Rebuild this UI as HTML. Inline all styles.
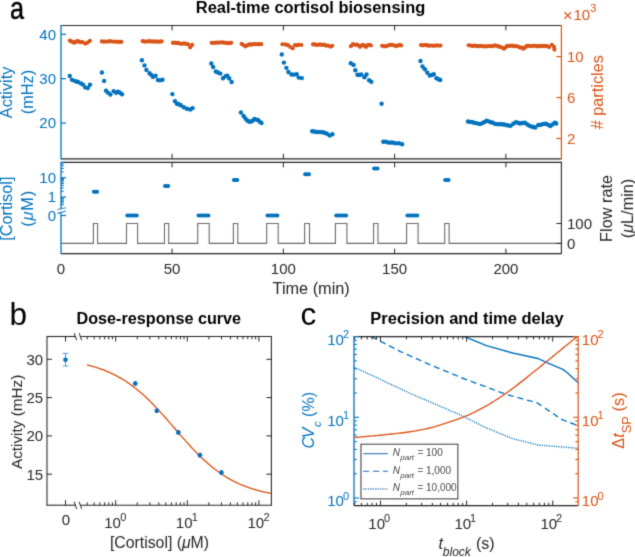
<!DOCTYPE html>
<html><head><meta charset="utf-8"><style>
html,body{margin:0;padding:0;background:#fff;}
svg{display:block;font-family:"Liberation Sans", sans-serif;}
</style></head><body>
<svg width="635" height="557" viewBox="0 0 635 557">
<defs><filter id="soft" x="0" y="0" width="100%" height="100%" filterUnits="userSpaceOnUse"><feConvolveMatrix order="3" kernelMatrix="0.0192 0.1001 0.0192 0.1001 0.5228 0.1001 0.0192 0.1001 0.0192" edgeMode="duplicate"/></filter></defs>
<rect width="635" height="557" fill="#fff"/>
<g filter="url(#soft)">
<text transform="translate(10,19) scale(0.8,1)" x="0" y="0" font-size="31.5" fill="#000" stroke="#000" stroke-width="0.5" text-anchor="start">a</text>
<text x="310.5" y="12.8" font-size="16" fill="#000" text-anchor="middle" font-weight="bold" textLength="229.5" lengthAdjust="spacingAndGlyphs">Real-time cortisol biosensing</text>
<circle cx="69.9" cy="40.62" r="2.1" fill="#D95319"/>
<circle cx="71" cy="41.23" r="2.1" fill="#D95319"/>
<circle cx="72.45" cy="41.81" r="2.1" fill="#D95319"/>
<circle cx="73.9" cy="42.67" r="2.1" fill="#D95319"/>
<circle cx="75.45" cy="42.14" r="2.1" fill="#D95319"/>
<circle cx="77" cy="41.2" r="2.1" fill="#D95319"/>
<circle cx="78.5" cy="41.31" r="2.1" fill="#D95319"/>
<circle cx="80" cy="42.04" r="2.1" fill="#D95319"/>
<circle cx="82.5" cy="42.13" r="2.1" fill="#D95319"/>
<circle cx="85.3" cy="43.61" r="2.1" fill="#D95319"/>
<circle cx="87.5" cy="42.65" r="2.1" fill="#D95319"/>
<circle cx="89.9" cy="40.8" r="2.1" fill="#D95319"/>
<circle cx="101.9" cy="41.38" r="2.1" fill="#D95319"/>
<circle cx="103.95" cy="41.69" r="2.1" fill="#D95319"/>
<circle cx="106" cy="41.48" r="2.1" fill="#D95319"/>
<circle cx="108" cy="41.56" r="2.1" fill="#D95319"/>
<circle cx="110" cy="41.19" r="2.1" fill="#D95319"/>
<circle cx="112" cy="41.49" r="2.1" fill="#D95319"/>
<circle cx="114" cy="41.76" r="2.1" fill="#D95319"/>
<circle cx="116" cy="41.62" r="2.1" fill="#D95319"/>
<circle cx="118" cy="41.87" r="2.1" fill="#D95319"/>
<circle cx="119.7" cy="41.87" r="2.1" fill="#D95319"/>
<circle cx="121.4" cy="41.8" r="2.1" fill="#D95319"/>
<circle cx="142.6" cy="41.09" r="2.1" fill="#D95319"/>
<circle cx="144.45" cy="41.61" r="2.1" fill="#D95319"/>
<circle cx="146.3" cy="41.51" r="2.1" fill="#D95319"/>
<circle cx="148.15" cy="41.34" r="2.1" fill="#D95319"/>
<circle cx="150" cy="41.17" r="2.1" fill="#D95319"/>
<circle cx="152" cy="41.72" r="2.1" fill="#D95319"/>
<circle cx="154" cy="41.41" r="2.1" fill="#D95319"/>
<circle cx="156" cy="41.55" r="2.1" fill="#D95319"/>
<circle cx="157.87" cy="41.67" r="2.1" fill="#D95319"/>
<circle cx="159.73" cy="41.55" r="2.1" fill="#D95319"/>
<circle cx="161.6" cy="41.4" r="2.1" fill="#D95319"/>
<circle cx="172.9" cy="42.79" r="2.1" fill="#D95319"/>
<circle cx="174.6" cy="42.59" r="2.1" fill="#D95319"/>
<circle cx="176.3" cy="43.04" r="2.1" fill="#D95319"/>
<circle cx="178" cy="42.96" r="2.1" fill="#D95319"/>
<circle cx="180" cy="43.54" r="2.1" fill="#D95319"/>
<circle cx="182" cy="43.73" r="2.1" fill="#D95319"/>
<circle cx="184" cy="43.42" r="2.1" fill="#D95319"/>
<circle cx="186" cy="43.85" r="2.1" fill="#D95319"/>
<circle cx="188" cy="44.3" r="2.1" fill="#D95319"/>
<circle cx="190.2" cy="47.33" r="2.1" fill="#D95319"/>
<circle cx="192.1" cy="44.9" r="2.1" fill="#D95319"/>
<circle cx="211.7" cy="42.86" r="2.1" fill="#D95319"/>
<circle cx="213.85" cy="42.89" r="2.1" fill="#D95319"/>
<circle cx="216" cy="42.56" r="2.1" fill="#D95319"/>
<circle cx="218" cy="42.64" r="2.1" fill="#D95319"/>
<circle cx="220" cy="42.49" r="2.1" fill="#D95319"/>
<circle cx="222" cy="42.4" r="2.1" fill="#D95319"/>
<circle cx="224" cy="42.69" r="2.1" fill="#D95319"/>
<circle cx="226" cy="42.83" r="2.1" fill="#D95319"/>
<circle cx="228" cy="43.18" r="2.1" fill="#D95319"/>
<circle cx="229.6" cy="42.98" r="2.1" fill="#D95319"/>
<circle cx="231.2" cy="42.8" r="2.1" fill="#D95319"/>
<circle cx="241.7" cy="43.9" r="2.1" fill="#D95319"/>
<circle cx="243.55" cy="45.05" r="2.1" fill="#D95319"/>
<circle cx="245.4" cy="46.34" r="2.1" fill="#D95319"/>
<circle cx="247.2" cy="45.42" r="2.1" fill="#D95319"/>
<circle cx="249" cy="44.36" r="2.1" fill="#D95319"/>
<circle cx="250.67" cy="44.59" r="2.1" fill="#D95319"/>
<circle cx="252.33" cy="44.39" r="2.1" fill="#D95319"/>
<circle cx="254" cy="44.08" r="2.1" fill="#D95319"/>
<circle cx="256" cy="44.05" r="2.1" fill="#D95319"/>
<circle cx="258" cy="44.35" r="2.1" fill="#D95319"/>
<circle cx="259.6" cy="44" r="2.1" fill="#D95319"/>
<circle cx="261.2" cy="44.2" r="2.1" fill="#D95319"/>
<circle cx="282.4" cy="44.23" r="2.1" fill="#D95319"/>
<circle cx="285" cy="44.35" r="2.1" fill="#D95319"/>
<circle cx="286.5" cy="44.75" r="2.1" fill="#D95319"/>
<circle cx="288" cy="45.19" r="2.1" fill="#D95319"/>
<circle cx="290.3" cy="47" r="2.1" fill="#D95319"/>
<circle cx="292.6" cy="48.34" r="2.1" fill="#D95319"/>
<circle cx="295" cy="45.21" r="2.1" fill="#D95319"/>
<circle cx="297" cy="45.36" r="2.1" fill="#D95319"/>
<circle cx="299" cy="44.74" r="2.1" fill="#D95319"/>
<circle cx="301.4" cy="45" r="2.1" fill="#D95319"/>
<circle cx="313" cy="44.36" r="2.1" fill="#D95319"/>
<circle cx="314.67" cy="44.46" r="2.1" fill="#D95319"/>
<circle cx="316.33" cy="44.79" r="2.1" fill="#D95319"/>
<circle cx="318" cy="44.86" r="2.1" fill="#D95319"/>
<circle cx="320" cy="44.41" r="2.1" fill="#D95319"/>
<circle cx="322" cy="44.95" r="2.1" fill="#D95319"/>
<circle cx="324" cy="44.68" r="2.1" fill="#D95319"/>
<circle cx="326" cy="45.55" r="2.1" fill="#D95319"/>
<circle cx="328" cy="45.68" r="2.1" fill="#D95319"/>
<circle cx="330.5" cy="46.57" r="2.1" fill="#D95319"/>
<circle cx="332.2" cy="45.8" r="2.1" fill="#D95319"/>
<circle cx="350.9" cy="46.14" r="2.1" fill="#D95319"/>
<circle cx="353" cy="44.2" r="2.1" fill="#D95319"/>
<circle cx="355" cy="44.85" r="2.1" fill="#D95319"/>
<circle cx="357" cy="44.67" r="2.1" fill="#D95319"/>
<circle cx="358.5" cy="45.5" r="2.1" fill="#D95319"/>
<circle cx="360" cy="46.87" r="2.1" fill="#D95319"/>
<circle cx="361.5" cy="45.57" r="2.1" fill="#D95319"/>
<circle cx="363" cy="44.79" r="2.1" fill="#D95319"/>
<circle cx="364.5" cy="45.84" r="2.1" fill="#D95319"/>
<circle cx="366" cy="46.88" r="2.1" fill="#D95319"/>
<circle cx="368" cy="44.76" r="2.1" fill="#D95319"/>
<circle cx="369.45" cy="44.93" r="2.1" fill="#D95319"/>
<circle cx="370.9" cy="45.5" r="2.1" fill="#D95319"/>
<circle cx="382.1" cy="45.76" r="2.1" fill="#D95319"/>
<circle cx="384" cy="46.37" r="2.1" fill="#D95319"/>
<circle cx="386" cy="46.17" r="2.1" fill="#D95319"/>
<circle cx="388" cy="45.48" r="2.1" fill="#D95319"/>
<circle cx="390" cy="44.91" r="2.1" fill="#D95319"/>
<circle cx="392" cy="44.77" r="2.1" fill="#D95319"/>
<circle cx="394" cy="45.41" r="2.1" fill="#D95319"/>
<circle cx="396" cy="46.1" r="2.1" fill="#D95319"/>
<circle cx="397.5" cy="45.57" r="2.1" fill="#D95319"/>
<circle cx="399" cy="45.04" r="2.1" fill="#D95319"/>
<circle cx="401.1" cy="45.4" r="2.1" fill="#D95319"/>
<circle cx="421" cy="45.08" r="2.1" fill="#D95319"/>
<circle cx="423" cy="45.31" r="2.1" fill="#D95319"/>
<circle cx="425" cy="45" r="2.1" fill="#D95319"/>
<circle cx="426.67" cy="45.22" r="2.1" fill="#D95319"/>
<circle cx="428.33" cy="45.69" r="2.1" fill="#D95319"/>
<circle cx="430" cy="45.62" r="2.1" fill="#D95319"/>
<circle cx="432" cy="45.53" r="2.1" fill="#D95319"/>
<circle cx="434" cy="45.87" r="2.1" fill="#D95319"/>
<circle cx="436" cy="45.41" r="2.1" fill="#D95319"/>
<circle cx="438.25" cy="45.53" r="2.1" fill="#D95319"/>
<circle cx="440.5" cy="45.6" r="2.1" fill="#D95319"/>
<circle cx="468.7" cy="45.26" r="2.1" fill="#D95319"/>
<circle cx="470.8" cy="45.67" r="2.1" fill="#D95319"/>
<circle cx="472.9" cy="45.92" r="2.1" fill="#D95319"/>
<circle cx="475" cy="45.66" r="2.1" fill="#D95319"/>
<circle cx="477" cy="46.14" r="2.1" fill="#D95319"/>
<circle cx="479" cy="46.21" r="2.1" fill="#D95319"/>
<circle cx="481" cy="45.87" r="2.1" fill="#D95319"/>
<circle cx="483" cy="46.33" r="2.1" fill="#D95319"/>
<circle cx="485" cy="46.28" r="2.1" fill="#D95319"/>
<circle cx="487" cy="46.33" r="2.1" fill="#D95319"/>
<circle cx="489" cy="46" r="2.1" fill="#D95319"/>
<circle cx="491" cy="46.14" r="2.1" fill="#D95319"/>
<circle cx="493" cy="46.07" r="2.1" fill="#D95319"/>
<circle cx="495" cy="45.47" r="2.1" fill="#D95319"/>
<circle cx="496.67" cy="45.73" r="2.1" fill="#D95319"/>
<circle cx="498.33" cy="46.39" r="2.1" fill="#D95319"/>
<circle cx="500" cy="46.82" r="2.1" fill="#D95319"/>
<circle cx="501.95" cy="47.48" r="2.1" fill="#D95319"/>
<circle cx="503.9" cy="48.77" r="2.1" fill="#D95319"/>
<circle cx="505.45" cy="47.56" r="2.1" fill="#D95319"/>
<circle cx="507" cy="46.07" r="2.1" fill="#D95319"/>
<circle cx="508.67" cy="45.97" r="2.1" fill="#D95319"/>
<circle cx="510.33" cy="45.8" r="2.1" fill="#D95319"/>
<circle cx="512" cy="45.71" r="2.1" fill="#D95319"/>
<circle cx="514" cy="46.13" r="2.1" fill="#D95319"/>
<circle cx="516" cy="46.19" r="2.1" fill="#D95319"/>
<circle cx="518" cy="46.51" r="2.1" fill="#D95319"/>
<circle cx="519.77" cy="47.46" r="2.1" fill="#D95319"/>
<circle cx="521.53" cy="47.6" r="2.1" fill="#D95319"/>
<circle cx="523.3" cy="48.65" r="2.1" fill="#D95319"/>
<circle cx="525.15" cy="47.46" r="2.1" fill="#D95319"/>
<circle cx="527" cy="45.87" r="2.1" fill="#D95319"/>
<circle cx="529" cy="45.81" r="2.1" fill="#D95319"/>
<circle cx="531" cy="46.21" r="2.1" fill="#D95319"/>
<circle cx="533" cy="45.82" r="2.1" fill="#D95319"/>
<circle cx="535" cy="45.78" r="2.1" fill="#D95319"/>
<circle cx="536.75" cy="46.03" r="2.1" fill="#D95319"/>
<circle cx="538.5" cy="46.29" r="2.1" fill="#D95319"/>
<circle cx="540.25" cy="45.95" r="2.1" fill="#D95319"/>
<circle cx="542" cy="46.18" r="2.1" fill="#D95319"/>
<circle cx="544" cy="45.93" r="2.1" fill="#D95319"/>
<circle cx="546" cy="46.03" r="2.1" fill="#D95319"/>
<circle cx="547.5" cy="46.26" r="2.1" fill="#D95319"/>
<circle cx="549" cy="47.05" r="2.1" fill="#D95319"/>
<circle cx="551.8" cy="44.77" r="2.1" fill="#D95319"/>
<circle cx="554" cy="46.89" r="2.1" fill="#D95319"/>
<circle cx="554.4" cy="49.6" r="2.1" fill="#D95319"/>
<circle cx="69.8" cy="75.99" r="2.2" fill="#0072BD"/>
<circle cx="72" cy="79.83" r="2.2" fill="#0072BD"/>
<circle cx="74.6" cy="80.87" r="2.2" fill="#0072BD"/>
<circle cx="76.3" cy="81.44" r="2.2" fill="#0072BD"/>
<circle cx="78" cy="82.07" r="2.2" fill="#0072BD"/>
<circle cx="80.9" cy="83.42" r="2.2" fill="#0072BD"/>
<circle cx="83" cy="84.61" r="2.2" fill="#0072BD"/>
<circle cx="85.3" cy="87.38" r="2.2" fill="#0072BD"/>
<circle cx="87.8" cy="88" r="2.2" fill="#0072BD"/>
<circle cx="90" cy="84.7" r="2.2" fill="#0072BD"/>
<circle cx="101.9" cy="72.5" r="2.2" fill="#0072BD"/>
<circle cx="104.1" cy="80.9" r="2.2" fill="#0072BD"/>
<circle cx="106" cy="90.81" r="2.2" fill="#0072BD"/>
<circle cx="108" cy="92.67" r="2.2" fill="#0072BD"/>
<circle cx="110.4" cy="94.48" r="2.2" fill="#0072BD"/>
<circle cx="113.5" cy="91.09" r="2.2" fill="#0072BD"/>
<circle cx="116" cy="92.68" r="2.2" fill="#0072BD"/>
<circle cx="118" cy="91.71" r="2.2" fill="#0072BD"/>
<circle cx="120" cy="92.78" r="2.2" fill="#0072BD"/>
<circle cx="122" cy="94.2" r="2.2" fill="#0072BD"/>
<circle cx="141.9" cy="60.2" r="2.2" fill="#0072BD"/>
<circle cx="144.5" cy="65.4" r="2.2" fill="#0072BD"/>
<circle cx="146.4" cy="69.88" r="2.2" fill="#0072BD"/>
<circle cx="149.5" cy="73.18" r="2.2" fill="#0072BD"/>
<circle cx="151.25" cy="74.86" r="2.2" fill="#0072BD"/>
<circle cx="153" cy="76.91" r="2.2" fill="#0072BD"/>
<circle cx="155.6" cy="75.75" r="2.2" fill="#0072BD"/>
<circle cx="157.9" cy="79.95" r="2.2" fill="#0072BD"/>
<circle cx="160" cy="80.35" r="2.2" fill="#0072BD"/>
<circle cx="162.5" cy="79.7" r="2.2" fill="#0072BD"/>
<circle cx="172.4" cy="94.1" r="2.2" fill="#0072BD"/>
<circle cx="175" cy="101.15" r="2.2" fill="#0072BD"/>
<circle cx="176.9" cy="103.79" r="2.2" fill="#0072BD"/>
<circle cx="178.85" cy="104.2" r="2.2" fill="#0072BD"/>
<circle cx="180.8" cy="105.27" r="2.2" fill="#0072BD"/>
<circle cx="183.8" cy="107.23" r="2.2" fill="#0072BD"/>
<circle cx="186.9" cy="108.79" r="2.2" fill="#0072BD"/>
<circle cx="190.2" cy="109.56" r="2.2" fill="#0072BD"/>
<circle cx="192.6" cy="108.1" r="2.2" fill="#0072BD"/>
<circle cx="211.3" cy="63.47" r="2.2" fill="#0072BD"/>
<circle cx="213.1" cy="67.06" r="2.2" fill="#0072BD"/>
<circle cx="215.8" cy="71.43" r="2.2" fill="#0072BD"/>
<circle cx="218" cy="72.55" r="2.2" fill="#0072BD"/>
<circle cx="220.3" cy="73.6" r="2.2" fill="#0072BD"/>
<circle cx="223" cy="78.2" r="2.2" fill="#0072BD"/>
<circle cx="225.5" cy="76.21" r="2.2" fill="#0072BD"/>
<circle cx="227.4" cy="75.67" r="2.2" fill="#0072BD"/>
<circle cx="229.2" cy="78.4" r="2.2" fill="#0072BD"/>
<circle cx="231.6" cy="82" r="2.2" fill="#0072BD"/>
<circle cx="240.9" cy="112.44" r="2.2" fill="#0072BD"/>
<circle cx="243.6" cy="115.94" r="2.2" fill="#0072BD"/>
<circle cx="245.4" cy="118.45" r="2.2" fill="#0072BD"/>
<circle cx="247.2" cy="120.47" r="2.2" fill="#0072BD"/>
<circle cx="249" cy="121.44" r="2.2" fill="#0072BD"/>
<circle cx="250.8" cy="121.63" r="2.2" fill="#0072BD"/>
<circle cx="252.6" cy="120.64" r="2.2" fill="#0072BD"/>
<circle cx="254.4" cy="119.02" r="2.2" fill="#0072BD"/>
<circle cx="256.2" cy="119.6" r="2.2" fill="#0072BD"/>
<circle cx="258" cy="120.04" r="2.2" fill="#0072BD"/>
<circle cx="259.75" cy="121.64" r="2.2" fill="#0072BD"/>
<circle cx="261.5" cy="123" r="2.2" fill="#0072BD"/>
<circle cx="281.8" cy="54.4" r="2.2" fill="#0072BD"/>
<circle cx="283.9" cy="62.6" r="2.2" fill="#0072BD"/>
<circle cx="286.4" cy="67.85" r="2.2" fill="#0072BD"/>
<circle cx="288.4" cy="72.01" r="2.2" fill="#0072BD"/>
<circle cx="291.5" cy="74.55" r="2.2" fill="#0072BD"/>
<circle cx="294" cy="74.6" r="2.2" fill="#0072BD"/>
<circle cx="296.7" cy="74.28" r="2.2" fill="#0072BD"/>
<circle cx="298.7" cy="77.6" r="2.2" fill="#0072BD"/>
<circle cx="301.8" cy="78.1" r="2.2" fill="#0072BD"/>
<circle cx="312.2" cy="131.21" r="2.2" fill="#0072BD"/>
<circle cx="314.13" cy="131.41" r="2.2" fill="#0072BD"/>
<circle cx="316.07" cy="132" r="2.2" fill="#0072BD"/>
<circle cx="318" cy="132.07" r="2.2" fill="#0072BD"/>
<circle cx="320.2" cy="132.1" r="2.2" fill="#0072BD"/>
<circle cx="322.4" cy="132.25" r="2.2" fill="#0072BD"/>
<circle cx="324.6" cy="132.82" r="2.2" fill="#0072BD"/>
<circle cx="327" cy="133.79" r="2.2" fill="#0072BD"/>
<circle cx="329.7" cy="135.47" r="2.2" fill="#0072BD"/>
<circle cx="332.4" cy="134.3" r="2.2" fill="#0072BD"/>
<circle cx="350.8" cy="63.31" r="2.2" fill="#0072BD"/>
<circle cx="353.6" cy="64.9" r="2.2" fill="#0072BD"/>
<circle cx="355.3" cy="70.32" r="2.2" fill="#0072BD"/>
<circle cx="357.5" cy="74.82" r="2.2" fill="#0072BD"/>
<circle cx="359.35" cy="74.89" r="2.2" fill="#0072BD"/>
<circle cx="361.2" cy="74.4" r="2.2" fill="#0072BD"/>
<circle cx="364.4" cy="77.18" r="2.2" fill="#0072BD"/>
<circle cx="366.5" cy="74.45" r="2.2" fill="#0072BD"/>
<circle cx="369.1" cy="80.18" r="2.2" fill="#0072BD"/>
<circle cx="371.3" cy="81.7" r="2.2" fill="#0072BD"/>
<circle cx="381.6" cy="103.7" r="2.2" fill="#0072BD"/>
<circle cx="383.3" cy="141.79" r="2.2" fill="#0072BD"/>
<circle cx="385.65" cy="141.65" r="2.2" fill="#0072BD"/>
<circle cx="388" cy="142.38" r="2.2" fill="#0072BD"/>
<circle cx="390" cy="142.67" r="2.2" fill="#0072BD"/>
<circle cx="392" cy="142.33" r="2.2" fill="#0072BD"/>
<circle cx="394" cy="142.91" r="2.2" fill="#0072BD"/>
<circle cx="396" cy="143.36" r="2.2" fill="#0072BD"/>
<circle cx="399" cy="143.22" r="2.2" fill="#0072BD"/>
<circle cx="402.1" cy="144.2" r="2.2" fill="#0072BD"/>
<circle cx="420.5" cy="61" r="2.2" fill="#0072BD"/>
<circle cx="422.5" cy="66.55" r="2.2" fill="#0072BD"/>
<circle cx="424.9" cy="69.18" r="2.2" fill="#0072BD"/>
<circle cx="427.3" cy="72.67" r="2.2" fill="#0072BD"/>
<circle cx="429.8" cy="75.6" r="2.2" fill="#0072BD"/>
<circle cx="431.8" cy="74.93" r="2.2" fill="#0072BD"/>
<circle cx="433.8" cy="74.28" r="2.2" fill="#0072BD"/>
<circle cx="436.4" cy="78.17" r="2.2" fill="#0072BD"/>
<circle cx="438.5" cy="79.24" r="2.2" fill="#0072BD"/>
<circle cx="440.3" cy="80" r="2.2" fill="#0072BD"/>
<circle cx="468" cy="121.48" r="2.2" fill="#0072BD"/>
<circle cx="470" cy="121.91" r="2.2" fill="#0072BD"/>
<circle cx="472" cy="121.95" r="2.2" fill="#0072BD"/>
<circle cx="474" cy="122.7" r="2.2" fill="#0072BD"/>
<circle cx="476" cy="123.09" r="2.2" fill="#0072BD"/>
<circle cx="478" cy="123.59" r="2.2" fill="#0072BD"/>
<circle cx="480" cy="124.11" r="2.2" fill="#0072BD"/>
<circle cx="482.23" cy="123.15" r="2.2" fill="#0072BD"/>
<circle cx="484.47" cy="121.99" r="2.2" fill="#0072BD"/>
<circle cx="486.7" cy="120.72" r="2.2" fill="#0072BD"/>
<circle cx="488.75" cy="121.36" r="2.2" fill="#0072BD"/>
<circle cx="490.8" cy="122.2" r="2.2" fill="#0072BD"/>
<circle cx="492.85" cy="122.82" r="2.2" fill="#0072BD"/>
<circle cx="494.9" cy="123.83" r="2.2" fill="#0072BD"/>
<circle cx="497.15" cy="124.15" r="2.2" fill="#0072BD"/>
<circle cx="499.4" cy="124.18" r="2.2" fill="#0072BD"/>
<circle cx="501.65" cy="124.22" r="2.2" fill="#0072BD"/>
<circle cx="503.9" cy="124.51" r="2.2" fill="#0072BD"/>
<circle cx="506.13" cy="124.96" r="2.2" fill="#0072BD"/>
<circle cx="508.37" cy="125.43" r="2.2" fill="#0072BD"/>
<circle cx="510.6" cy="125.87" r="2.2" fill="#0072BD"/>
<circle cx="513.25" cy="123.78" r="2.2" fill="#0072BD"/>
<circle cx="515.9" cy="122.18" r="2.2" fill="#0072BD"/>
<circle cx="517.95" cy="122.82" r="2.2" fill="#0072BD"/>
<circle cx="520" cy="123.46" r="2.2" fill="#0072BD"/>
<circle cx="522.4" cy="123.02" r="2.2" fill="#0072BD"/>
<circle cx="524.8" cy="122.7" r="2.2" fill="#0072BD"/>
<circle cx="527.05" cy="124.32" r="2.2" fill="#0072BD"/>
<circle cx="529.3" cy="125.65" r="2.2" fill="#0072BD"/>
<circle cx="531.3" cy="126.48" r="2.2" fill="#0072BD"/>
<circle cx="533.3" cy="127.01" r="2.2" fill="#0072BD"/>
<circle cx="535.3" cy="127.55" r="2.2" fill="#0072BD"/>
<circle cx="538.3" cy="125.02" r="2.2" fill="#0072BD"/>
<circle cx="540.8" cy="124.72" r="2.2" fill="#0072BD"/>
<circle cx="543.3" cy="123.94" r="2.2" fill="#0072BD"/>
<circle cx="545.8" cy="123.75" r="2.2" fill="#0072BD"/>
<circle cx="548.05" cy="124.71" r="2.2" fill="#0072BD"/>
<circle cx="550.3" cy="125.93" r="2.2" fill="#0072BD"/>
<circle cx="552.55" cy="124.46" r="2.2" fill="#0072BD"/>
<circle cx="554.8" cy="122.62" r="2.2" fill="#0072BD"/>
<circle cx="556.3" cy="123.5" r="2.2" fill="#0072BD"/>
<line x1="61" y1="25.45" x2="561.4" y2="25.45" stroke="#262626" stroke-width="1.1" />
<line x1="61" y1="158.9" x2="561.4" y2="158.9" stroke="#262626" stroke-width="1.1" />
<line x1="61" y1="24.95" x2="61" y2="159.4" stroke="#0072BD" stroke-width="1.3" />
<line x1="561.4" y1="24.95" x2="561.4" y2="159.4" stroke="#D95319" stroke-width="1.2" />
<line x1="172.07" y1="25.45" x2="172.07" y2="30.45" stroke="#262626" stroke-width="1" />
<line x1="172.07" y1="153.9" x2="172.07" y2="158.9" stroke="#262626" stroke-width="1" />
<line x1="283.35" y1="25.45" x2="283.35" y2="30.45" stroke="#262626" stroke-width="1" />
<line x1="283.35" y1="153.9" x2="283.35" y2="158.9" stroke="#262626" stroke-width="1" />
<line x1="394.62" y1="25.45" x2="394.62" y2="30.45" stroke="#262626" stroke-width="1" />
<line x1="394.62" y1="153.9" x2="394.62" y2="158.9" stroke="#262626" stroke-width="1" />
<line x1="505.9" y1="25.45" x2="505.9" y2="30.45" stroke="#262626" stroke-width="1" />
<line x1="505.9" y1="153.9" x2="505.9" y2="158.9" stroke="#262626" stroke-width="1" />
<line x1="61" y1="123.1" x2="66" y2="123.1" stroke="#0072BD" stroke-width="1.2" />
<text x="56" y="128.4" font-size="15" fill="#0072BD" text-anchor="end">20</text>
<line x1="61" y1="78.7" x2="66" y2="78.7" stroke="#0072BD" stroke-width="1.2" />
<text x="56" y="84" font-size="15" fill="#0072BD" text-anchor="end">30</text>
<line x1="61" y1="34.3" x2="66" y2="34.3" stroke="#0072BD" stroke-width="1.2" />
<text x="56" y="39.6" font-size="15" fill="#0072BD" text-anchor="end">40</text>
<line x1="556.4" y1="138.5" x2="561.4" y2="138.5" stroke="#D95319" stroke-width="1.2" />
<text x="567" y="143.8" font-size="15" fill="#D95319" text-anchor="start">2</text>
<line x1="556.4" y1="97.54" x2="561.4" y2="97.54" stroke="#D95319" stroke-width="1.2" />
<text x="567" y="102.84" font-size="15" fill="#D95319" text-anchor="start">6</text>
<line x1="556.4" y1="56.58" x2="561.4" y2="56.58" stroke="#D95319" stroke-width="1.2" />
<text x="567" y="61.88" font-size="15" fill="#D95319" text-anchor="start">10</text>
<text x="562.8" y="21.2" font-size="17" fill="#D95319" text-anchor="start">&#215;</text>
<text x="573.5" y="19.8" font-size="15" fill="#D95319" text-anchor="start">10</text>
<text x="590.3" y="12.3" font-size="11" fill="#D95319" text-anchor="start">3</text>
<text transform="translate(11.9,92.4) rotate(-90)" x="0" y="0" font-size="16.3" fill="#0072BD" text-anchor="middle">Activity</text>
<text transform="translate(32.6,92.05) rotate(-90)" x="0" y="0" font-size="16.3" fill="#0072BD" text-anchor="middle">(mHz)</text>
<text transform="translate(603.2,92.25) rotate(-90)" x="0" y="0" font-size="16.3" fill="#D95319" text-anchor="middle"># particles</text>
<polyline points="61,243.4 93.4,243.4 93.4,223.5 97.6,223.5 97.6,243.4 126.5,243.4 126.5,223.5 137.6,223.5 137.6,243.4 164.5,243.4 164.5,223.5 168.7,223.5 168.7,243.4 197.7,243.4 197.7,223.5 209.2,223.5 209.2,243.4 233.4,243.4 233.4,223.5 237.8,223.5 237.8,243.4 266.7,243.4 266.7,223.5 278.2,223.5 278.2,243.4 304.6,243.4 304.6,223.5 309.5,223.5 309.5,243.4 335.4,243.4 335.4,223.5 346.9,223.5 346.9,243.4 373.6,243.4 373.6,223.5 378,223.5 378,243.4 406.6,243.4 406.6,223.5 418.1,223.5 418.1,243.4 444.7,243.4 444.7,223.5 449.1,223.5 449.1,243.4 561.4,243.4" fill="none" stroke="#6a6a6a" stroke-width="1.1" />
<circle cx="93.9" cy="191.8" r="2.0" fill="#0072BD"/>
<circle cx="95.5" cy="191.8" r="2.0" fill="#0072BD"/>
<circle cx="97.1" cy="191.8" r="2.0" fill="#0072BD"/>
<circle cx="165" cy="185.96" r="2.0" fill="#0072BD"/>
<circle cx="166.6" cy="185.96" r="2.0" fill="#0072BD"/>
<circle cx="168.2" cy="185.96" r="2.0" fill="#0072BD"/>
<circle cx="233.9" cy="180.12" r="2.0" fill="#0072BD"/>
<circle cx="235.6" cy="180.12" r="2.0" fill="#0072BD"/>
<circle cx="237.3" cy="180.12" r="2.0" fill="#0072BD"/>
<circle cx="305.1" cy="174.28" r="2.0" fill="#0072BD"/>
<circle cx="307.05" cy="174.28" r="2.0" fill="#0072BD"/>
<circle cx="309" cy="174.28" r="2.0" fill="#0072BD"/>
<circle cx="374.1" cy="168.44" r="2.0" fill="#0072BD"/>
<circle cx="375.8" cy="168.44" r="2.0" fill="#0072BD"/>
<circle cx="377.5" cy="168.44" r="2.0" fill="#0072BD"/>
<circle cx="445.2" cy="180.12" r="2.0" fill="#0072BD"/>
<circle cx="446.9" cy="180.12" r="2.0" fill="#0072BD"/>
<circle cx="448.6" cy="180.12" r="2.0" fill="#0072BD"/>
<circle cx="127.3" cy="215.5" r="2.0" fill="#0072BD"/>
<circle cx="129.2" cy="215.5" r="2.0" fill="#0072BD"/>
<circle cx="131.1" cy="215.5" r="2.0" fill="#0072BD"/>
<circle cx="133" cy="215.5" r="2.0" fill="#0072BD"/>
<circle cx="134.9" cy="215.5" r="2.0" fill="#0072BD"/>
<circle cx="136.8" cy="215.5" r="2.0" fill="#0072BD"/>
<circle cx="198.5" cy="215.5" r="2.0" fill="#0072BD"/>
<circle cx="200.48" cy="215.5" r="2.0" fill="#0072BD"/>
<circle cx="202.46" cy="215.5" r="2.0" fill="#0072BD"/>
<circle cx="204.44" cy="215.5" r="2.0" fill="#0072BD"/>
<circle cx="206.42" cy="215.5" r="2.0" fill="#0072BD"/>
<circle cx="208.4" cy="215.5" r="2.0" fill="#0072BD"/>
<circle cx="267.5" cy="215.5" r="2.0" fill="#0072BD"/>
<circle cx="269.48" cy="215.5" r="2.0" fill="#0072BD"/>
<circle cx="271.46" cy="215.5" r="2.0" fill="#0072BD"/>
<circle cx="273.44" cy="215.5" r="2.0" fill="#0072BD"/>
<circle cx="275.42" cy="215.5" r="2.0" fill="#0072BD"/>
<circle cx="277.4" cy="215.5" r="2.0" fill="#0072BD"/>
<circle cx="336.2" cy="215.5" r="2.0" fill="#0072BD"/>
<circle cx="338.18" cy="215.5" r="2.0" fill="#0072BD"/>
<circle cx="340.16" cy="215.5" r="2.0" fill="#0072BD"/>
<circle cx="342.14" cy="215.5" r="2.0" fill="#0072BD"/>
<circle cx="344.12" cy="215.5" r="2.0" fill="#0072BD"/>
<circle cx="346.1" cy="215.5" r="2.0" fill="#0072BD"/>
<circle cx="407.4" cy="215.5" r="2.0" fill="#0072BD"/>
<circle cx="409.38" cy="215.5" r="2.0" fill="#0072BD"/>
<circle cx="411.36" cy="215.5" r="2.0" fill="#0072BD"/>
<circle cx="413.34" cy="215.5" r="2.0" fill="#0072BD"/>
<circle cx="415.32" cy="215.5" r="2.0" fill="#0072BD"/>
<circle cx="417.3" cy="215.5" r="2.0" fill="#0072BD"/>
<line x1="61" y1="162.35" x2="561.4" y2="162.35" stroke="#262626" stroke-width="1.1" />
<line x1="61" y1="253.6" x2="561.4" y2="253.6" stroke="#262626" stroke-width="1.1" />
<line x1="561.4" y1="161.85" x2="561.4" y2="254.1" stroke="#262626" stroke-width="1.1" />
<line x1="61" y1="161.85" x2="61" y2="254.1" stroke="#0072BD" stroke-width="1.3" />
<line x1="172.07" y1="162.35" x2="172.07" y2="167.35" stroke="#262626" stroke-width="1" />
<line x1="172.07" y1="248.6" x2="172.07" y2="253.6" stroke="#262626" stroke-width="1" />
<line x1="283.35" y1="162.35" x2="283.35" y2="167.35" stroke="#262626" stroke-width="1" />
<line x1="283.35" y1="248.6" x2="283.35" y2="253.6" stroke="#262626" stroke-width="1" />
<line x1="394.62" y1="162.35" x2="394.62" y2="167.35" stroke="#262626" stroke-width="1" />
<line x1="394.62" y1="248.6" x2="394.62" y2="253.6" stroke="#262626" stroke-width="1" />
<line x1="505.9" y1="162.35" x2="505.9" y2="167.35" stroke="#262626" stroke-width="1" />
<line x1="505.9" y1="248.6" x2="505.9" y2="253.6" stroke="#262626" stroke-width="1" />
<text x="60.8" y="273.6" font-size="15" fill="#262626" text-anchor="middle">0</text>
<text x="172.07" y="273.6" font-size="15" fill="#262626" text-anchor="middle">50</text>
<text x="283.35" y="273.6" font-size="15" fill="#262626" text-anchor="middle">100</text>
<text x="394.62" y="273.6" font-size="15" fill="#262626" text-anchor="middle">150</text>
<text x="505.9" y="273.6" font-size="15" fill="#262626" text-anchor="middle">200</text>
<text x="311.2" y="294.4" font-size="16.3" fill="#262626" text-anchor="middle">Time (min)</text>
<line x1="61" y1="197.1" x2="66" y2="197.1" stroke="#0072BD" stroke-width="1.2" />
<line x1="61" y1="177.7" x2="66" y2="177.7" stroke="#0072BD" stroke-width="1.2" />
<line x1="61" y1="215.5" x2="66" y2="215.5" stroke="#0072BD" stroke-width="1.2" />
<line x1="61" y1="204.82" x2="63.8" y2="204.82" stroke="#0072BD" stroke-width="1.0" />
<line x1="61" y1="202.94" x2="63.8" y2="202.94" stroke="#0072BD" stroke-width="1.0" />
<line x1="61" y1="201.4" x2="63.8" y2="201.4" stroke="#0072BD" stroke-width="1.0" />
<line x1="61" y1="200.11" x2="63.8" y2="200.11" stroke="#0072BD" stroke-width="1.0" />
<line x1="61" y1="198.98" x2="63.8" y2="198.98" stroke="#0072BD" stroke-width="1.0" />
<line x1="61" y1="197.99" x2="63.8" y2="197.99" stroke="#0072BD" stroke-width="1.0" />
<line x1="61" y1="191.26" x2="63.8" y2="191.26" stroke="#0072BD" stroke-width="1.0" />
<line x1="61" y1="187.84" x2="63.8" y2="187.84" stroke="#0072BD" stroke-width="1.0" />
<line x1="61" y1="185.42" x2="63.8" y2="185.42" stroke="#0072BD" stroke-width="1.0" />
<line x1="61" y1="183.54" x2="63.8" y2="183.54" stroke="#0072BD" stroke-width="1.0" />
<line x1="61" y1="182" x2="63.8" y2="182" stroke="#0072BD" stroke-width="1.0" />
<line x1="61" y1="180.71" x2="63.8" y2="180.71" stroke="#0072BD" stroke-width="1.0" />
<line x1="61" y1="179.58" x2="63.8" y2="179.58" stroke="#0072BD" stroke-width="1.0" />
<line x1="61" y1="178.59" x2="63.8" y2="178.59" stroke="#0072BD" stroke-width="1.0" />
<line x1="61" y1="171.86" x2="63.8" y2="171.86" stroke="#0072BD" stroke-width="1.0" />
<line x1="61" y1="168.44" x2="63.8" y2="168.44" stroke="#0072BD" stroke-width="1.0" />
<line x1="61" y1="166.02" x2="63.8" y2="166.02" stroke="#0072BD" stroke-width="1.0" />
<line x1="61" y1="164.14" x2="63.8" y2="164.14" stroke="#0072BD" stroke-width="1.0" />
<line x1="61" y1="162.6" x2="63.8" y2="162.6" stroke="#0072BD" stroke-width="1.0" />
<text x="56" y="183" font-size="15" fill="#0072BD" text-anchor="end">10</text>
<text x="56" y="202.4" font-size="15" fill="#0072BD" text-anchor="end">1</text>
<text x="56" y="220.8" font-size="15" fill="#0072BD" text-anchor="end">0</text>
<polygon points="57.5,209.8 65.7,207.7 65.7,211 57.5,213.4" fill="#fff"/>
<line x1="57.5" y1="209.8" x2="65.7" y2="207.7" stroke="#0072BD" stroke-width="1.1" />
<line x1="57.5" y1="213.4" x2="65.7" y2="211" stroke="#0072BD" stroke-width="1.1" />
<line x1="556.4" y1="243.4" x2="561.4" y2="243.4" stroke="#262626" stroke-width="1" />
<text x="567" y="248.7" font-size="15" fill="#262626" text-anchor="start">0</text>
<line x1="556.4" y1="223.5" x2="561.4" y2="223.5" stroke="#262626" stroke-width="1" />
<text x="567" y="228.8" font-size="15" fill="#262626" text-anchor="start">100</text>
<text transform="translate(12.3,208.7) rotate(-90)" x="0" y="0" font-size="16.3" fill="#0072BD" text-anchor="middle">[Cortisol]</text>
<text transform="translate(33.0,208.35) rotate(-90)" font-size="16.3" letter-spacing="0.8" fill="#0072BD" text-anchor="middle">(<tspan font-style="italic">&#956;</tspan>M)</text>
<text transform="translate(611.8,208.45) rotate(-90)" x="0" y="0" font-size="16.3" fill="#262626" text-anchor="middle">Flow rate</text>
<text transform="translate(632.5,208.5) rotate(-90)" font-size="16.3" fill="#262626" text-anchor="middle">(<tspan font-style="italic">&#956;</tspan>L/min)</text>
<text x="9.5" y="325.2" font-size="31.5" fill="#000" text-anchor="start">b</text>
<text x="158.8" y="324" font-size="16" fill="#000" text-anchor="middle" font-weight="bold" textLength="164.5" lengthAdjust="spacingAndGlyphs">Dose-response curve</text>
<polyline points="86.97,364.93 88.3,365.25 89.63,365.58 90.95,365.93 92.28,366.29 93.61,366.67 94.93,367.06 96.26,367.46 97.59,367.88 98.91,368.32 100.24,368.77 101.57,369.24 102.9,369.72 104.22,370.23 105.55,370.75 106.88,371.29 108.2,371.85 109.53,372.42 110.86,373.02 112.18,373.64 113.51,374.28 114.84,374.94 116.16,375.63 117.49,376.33 118.82,377.06 120.14,377.81 121.47,378.58 122.8,379.38 124.12,380.2 125.45,381.05 126.78,381.92 128.1,382.82 129.43,383.74 130.76,384.68 132.08,385.66 133.41,386.65 134.74,387.68 136.07,388.72 137.39,389.8 138.72,390.9 140.05,392.02 141.37,393.17 142.7,394.35 144.03,395.55 145.35,396.77 146.68,398.02 148.01,399.29 149.33,400.58 150.66,401.89 151.99,403.23 153.31,404.59 154.64,405.96 155.97,407.36 157.29,408.77 158.62,410.2 159.95,411.64 161.27,413.1 162.6,414.58 163.93,416.06 165.26,417.56 166.58,419.06 167.91,420.58 169.24,422.1 170.56,423.63 171.89,425.16 173.22,426.69 174.54,428.23 175.87,429.77 177.2,431.3 178.52,432.83 179.85,434.36 181.18,435.88 182.5,437.39 183.83,438.9 185.16,440.4 186.48,441.88 187.81,443.35 189.14,444.81 190.46,446.26 191.79,447.69 193.12,449.1 194.45,450.49 195.77,451.87 197.1,453.22 198.43,454.56 199.75,455.87 201.08,457.16 202.41,458.43 203.73,459.68 205.06,460.9 206.39,462.1 207.71,463.27 209.04,464.42 210.37,465.55 211.69,466.65 213.02,467.72 214.35,468.77 215.67,469.79 217,470.79 218.33,471.76 219.65,472.7 220.98,473.62 222.31,474.52 223.63,475.39 224.96,476.23 226.29,477.05 227.62,477.85 228.94,478.62 230.27,479.37 231.6,480.1 232.92,480.81 234.25,481.49 235.58,482.15 236.9,482.79 238.23,483.41 239.56,484 240.88,484.58 242.21,485.14 243.54,485.68 244.86,486.2 246.19,486.7 247.52,487.19 248.84,487.65 250.17,488.1 251.5,488.54 252.82,488.96 254.15,489.36 255.48,489.75 256.81,490.13 258.13,490.49 259.46,490.84 260.79,491.17 262.11,491.49 263.44,491.8 264.77,492.1 266.09,492.39 267.42,492.66 268.75,492.93 270.07,493.18 271.4,493.43" fill="none" stroke="#D95319" stroke-width="1.35" />
<line x1="135.25" y1="381.91" x2="135.25" y2="385.11" stroke="#0072BD" stroke-width="1" />
<line x1="133.75" y1="381.91" x2="136.75" y2="381.91" stroke="#0072BD" stroke-width="0.9" />
<line x1="133.75" y1="385.11" x2="136.75" y2="385.11" stroke="#0072BD" stroke-width="0.9" />
<circle cx="135.25" cy="383.51" r="2.3" fill="#0072BD"/>
<line x1="156.8" y1="409.18" x2="156.8" y2="412.38" stroke="#0072BD" stroke-width="1" />
<line x1="155.3" y1="409.18" x2="158.3" y2="409.18" stroke="#0072BD" stroke-width="0.9" />
<line x1="155.3" y1="412.38" x2="158.3" y2="412.38" stroke="#0072BD" stroke-width="0.9" />
<circle cx="156.8" cy="410.78" r="2.3" fill="#0072BD"/>
<line x1="178.35" y1="430.78" x2="178.35" y2="433.98" stroke="#0072BD" stroke-width="1" />
<line x1="176.85" y1="430.78" x2="179.85" y2="430.78" stroke="#0072BD" stroke-width="0.9" />
<line x1="176.85" y1="433.98" x2="179.85" y2="433.98" stroke="#0072BD" stroke-width="0.9" />
<circle cx="178.35" cy="432.38" r="2.3" fill="#0072BD"/>
<line x1="199.91" y1="453.53" x2="199.91" y2="456.73" stroke="#0072BD" stroke-width="1" />
<line x1="198.41" y1="453.53" x2="201.41" y2="453.53" stroke="#0072BD" stroke-width="0.9" />
<line x1="198.41" y1="456.73" x2="201.41" y2="456.73" stroke="#0072BD" stroke-width="0.9" />
<circle cx="199.91" cy="455.13" r="2.3" fill="#0072BD"/>
<line x1="221.46" y1="470.99" x2="221.46" y2="474.19" stroke="#0072BD" stroke-width="1" />
<line x1="219.96" y1="470.99" x2="222.96" y2="470.99" stroke="#0072BD" stroke-width="0.9" />
<line x1="219.96" y1="474.19" x2="222.96" y2="474.19" stroke="#0072BD" stroke-width="0.9" />
<circle cx="221.46" cy="472.59" r="2.3" fill="#0072BD"/>
<line x1="65.5" y1="353.4" x2="65.5" y2="366" stroke="#4a9fe0" stroke-width="1" />
<line x1="62.7" y1="353.4" x2="68.3" y2="353.4" stroke="#4a9fe0" stroke-width="1" />
<line x1="62.7" y1="366" x2="68.3" y2="366" stroke="#4a9fe0" stroke-width="1" />
<circle cx="65.5" cy="359.7" r="2.3" fill="#0072BD"/>
<line x1="47" y1="336.5" x2="76" y2="336.5" stroke="#262626" stroke-width="1.1" />
<line x1="80.3" y1="336.5" x2="271.4" y2="336.5" stroke="#262626" stroke-width="1.1" />
<line x1="47" y1="505.2" x2="76" y2="505.2" stroke="#262626" stroke-width="1.1" />
<line x1="80.3" y1="505.2" x2="271.4" y2="505.2" stroke="#262626" stroke-width="1.1" />
<line x1="47" y1="336" x2="47" y2="505.7" stroke="#262626" stroke-width="1.1" />
<line x1="271.4" y1="336" x2="271.4" y2="505.7" stroke="#262626" stroke-width="1.1" />
<line x1="47" y1="474.2" x2="52" y2="474.2" stroke="#262626" stroke-width="1" />
<line x1="266.4" y1="474.2" x2="271.4" y2="474.2" stroke="#262626" stroke-width="1" />
<text x="43.2" y="479.5" font-size="15" fill="#262626" text-anchor="end">15</text>
<line x1="47" y1="435.9" x2="52" y2="435.9" stroke="#262626" stroke-width="1" />
<line x1="266.4" y1="435.9" x2="271.4" y2="435.9" stroke="#262626" stroke-width="1" />
<text x="43.2" y="441.2" font-size="15" fill="#262626" text-anchor="end">20</text>
<line x1="47" y1="397.6" x2="52" y2="397.6" stroke="#262626" stroke-width="1" />
<line x1="266.4" y1="397.6" x2="271.4" y2="397.6" stroke="#262626" stroke-width="1" />
<text x="43.2" y="402.9" font-size="15" fill="#262626" text-anchor="end">25</text>
<line x1="47" y1="359.3" x2="52" y2="359.3" stroke="#262626" stroke-width="1" />
<line x1="266.4" y1="359.3" x2="271.4" y2="359.3" stroke="#262626" stroke-width="1" />
<text x="43.2" y="364.6" font-size="15" fill="#262626" text-anchor="end">30</text>
<line x1="65.5" y1="336.5" x2="65.5" y2="341.5" stroke="#262626" stroke-width="1" />
<line x1="65.5" y1="500.2" x2="65.5" y2="505.2" stroke="#262626" stroke-width="1" />
<line x1="115.7" y1="336.5" x2="115.7" y2="341.5" stroke="#262626" stroke-width="1" />
<line x1="115.7" y1="500.2" x2="115.7" y2="505.2" stroke="#262626" stroke-width="1" />
<line x1="187.3" y1="336.5" x2="187.3" y2="341.5" stroke="#262626" stroke-width="1" />
<line x1="187.3" y1="500.2" x2="187.3" y2="505.2" stroke="#262626" stroke-width="1" />
<line x1="258.9" y1="336.5" x2="258.9" y2="341.5" stroke="#262626" stroke-width="1" />
<line x1="258.9" y1="500.2" x2="258.9" y2="505.2" stroke="#262626" stroke-width="1" />
<line x1="87.21" y1="336.5" x2="87.21" y2="339.3" stroke="#262626" stroke-width="1" />
<line x1="87.21" y1="502.4" x2="87.21" y2="505.2" stroke="#262626" stroke-width="1" />
<line x1="94.15" y1="336.5" x2="94.15" y2="339.3" stroke="#262626" stroke-width="1" />
<line x1="94.15" y1="502.4" x2="94.15" y2="505.2" stroke="#262626" stroke-width="1" />
<line x1="99.82" y1="336.5" x2="99.82" y2="339.3" stroke="#262626" stroke-width="1" />
<line x1="99.82" y1="502.4" x2="99.82" y2="505.2" stroke="#262626" stroke-width="1" />
<line x1="104.61" y1="336.5" x2="104.61" y2="339.3" stroke="#262626" stroke-width="1" />
<line x1="104.61" y1="502.4" x2="104.61" y2="505.2" stroke="#262626" stroke-width="1" />
<line x1="108.76" y1="336.5" x2="108.76" y2="339.3" stroke="#262626" stroke-width="1" />
<line x1="108.76" y1="502.4" x2="108.76" y2="505.2" stroke="#262626" stroke-width="1" />
<line x1="112.42" y1="336.5" x2="112.42" y2="339.3" stroke="#262626" stroke-width="1" />
<line x1="112.42" y1="502.4" x2="112.42" y2="505.2" stroke="#262626" stroke-width="1" />
<line x1="137.25" y1="336.5" x2="137.25" y2="339.3" stroke="#262626" stroke-width="1" />
<line x1="137.25" y1="502.4" x2="137.25" y2="505.2" stroke="#262626" stroke-width="1" />
<line x1="149.86" y1="336.5" x2="149.86" y2="339.3" stroke="#262626" stroke-width="1" />
<line x1="149.86" y1="502.4" x2="149.86" y2="505.2" stroke="#262626" stroke-width="1" />
<line x1="158.81" y1="336.5" x2="158.81" y2="339.3" stroke="#262626" stroke-width="1" />
<line x1="158.81" y1="502.4" x2="158.81" y2="505.2" stroke="#262626" stroke-width="1" />
<line x1="165.75" y1="336.5" x2="165.75" y2="339.3" stroke="#262626" stroke-width="1" />
<line x1="165.75" y1="502.4" x2="165.75" y2="505.2" stroke="#262626" stroke-width="1" />
<line x1="171.42" y1="336.5" x2="171.42" y2="339.3" stroke="#262626" stroke-width="1" />
<line x1="171.42" y1="502.4" x2="171.42" y2="505.2" stroke="#262626" stroke-width="1" />
<line x1="176.21" y1="336.5" x2="176.21" y2="339.3" stroke="#262626" stroke-width="1" />
<line x1="176.21" y1="502.4" x2="176.21" y2="505.2" stroke="#262626" stroke-width="1" />
<line x1="180.36" y1="336.5" x2="180.36" y2="339.3" stroke="#262626" stroke-width="1" />
<line x1="180.36" y1="502.4" x2="180.36" y2="505.2" stroke="#262626" stroke-width="1" />
<line x1="184.02" y1="336.5" x2="184.02" y2="339.3" stroke="#262626" stroke-width="1" />
<line x1="184.02" y1="502.4" x2="184.02" y2="505.2" stroke="#262626" stroke-width="1" />
<line x1="208.85" y1="336.5" x2="208.85" y2="339.3" stroke="#262626" stroke-width="1" />
<line x1="208.85" y1="502.4" x2="208.85" y2="505.2" stroke="#262626" stroke-width="1" />
<line x1="221.46" y1="336.5" x2="221.46" y2="339.3" stroke="#262626" stroke-width="1" />
<line x1="221.46" y1="502.4" x2="221.46" y2="505.2" stroke="#262626" stroke-width="1" />
<line x1="230.41" y1="336.5" x2="230.41" y2="339.3" stroke="#262626" stroke-width="1" />
<line x1="230.41" y1="502.4" x2="230.41" y2="505.2" stroke="#262626" stroke-width="1" />
<line x1="237.35" y1="336.5" x2="237.35" y2="339.3" stroke="#262626" stroke-width="1" />
<line x1="237.35" y1="502.4" x2="237.35" y2="505.2" stroke="#262626" stroke-width="1" />
<line x1="243.02" y1="336.5" x2="243.02" y2="339.3" stroke="#262626" stroke-width="1" />
<line x1="243.02" y1="502.4" x2="243.02" y2="505.2" stroke="#262626" stroke-width="1" />
<line x1="247.81" y1="336.5" x2="247.81" y2="339.3" stroke="#262626" stroke-width="1" />
<line x1="247.81" y1="502.4" x2="247.81" y2="505.2" stroke="#262626" stroke-width="1" />
<line x1="251.96" y1="336.5" x2="251.96" y2="339.3" stroke="#262626" stroke-width="1" />
<line x1="251.96" y1="502.4" x2="251.96" y2="505.2" stroke="#262626" stroke-width="1" />
<line x1="255.62" y1="336.5" x2="255.62" y2="339.3" stroke="#262626" stroke-width="1" />
<line x1="255.62" y1="502.4" x2="255.62" y2="505.2" stroke="#262626" stroke-width="1" />
<line x1="74.2" y1="333.2" x2="76.7" y2="340.2" stroke="#262626" stroke-width="1.0" />
<line x1="79.2" y1="333.2" x2="81.6" y2="340.2" stroke="#262626" stroke-width="1.0" />
<line x1="74.2" y1="501.9" x2="76.7" y2="508.9" stroke="#262626" stroke-width="1.0" />
<line x1="79.2" y1="501.9" x2="81.6" y2="508.9" stroke="#262626" stroke-width="1.0" />
<text x="65.9" y="525.2" font-size="15" fill="#262626" text-anchor="middle">0</text>
<text x="104.2" y="527.8" font-size="15" fill="#262626" text-anchor="start">10</text>
<text x="120.2" y="521.2" font-size="11" fill="#262626" text-anchor="start">0</text>
<text x="175.8" y="527.8" font-size="15" fill="#262626" text-anchor="start">10</text>
<text x="191.8" y="521.2" font-size="11" fill="#262626" text-anchor="start">1</text>
<text x="247.4" y="527.8" font-size="15" fill="#262626" text-anchor="start">10</text>
<text x="263.4" y="521.2" font-size="11" fill="#262626" text-anchor="start">2</text>
<text transform="translate(21.7,421.9) rotate(-90)" x="0" y="0" font-size="15.3" fill="#262626" text-anchor="middle">Activity (mHz)</text>
<text x="159.5" y="547.6" font-size="15.8" fill="#262626" text-anchor="middle">[Cortisol] (<tspan font-style="italic">&#956;</tspan>M)</text>
<text x="300.5" y="324.6" font-size="31.5" fill="#000" text-anchor="start">c</text>
<text x="467" y="324" font-size="16" fill="#000" text-anchor="middle" font-weight="bold" textLength="193.3" lengthAdjust="spacingAndGlyphs">Precision and time delay</text>
<clipPath id="cc"><rect x="354.0" y="336.6" width="224.20000000000005" height="169.0"/></clipPath>
<g clip-path="url(#cc)">
<polyline points="353.5,437.5 355.4,437.36 357.3,437.21 359.2,437.07 361.1,436.91 363,436.76 364.89,436.6 366.79,436.44 368.69,436.27 370.59,436.11 372.49,435.94 374.39,435.76 376.29,435.59 378.19,435.41 380.09,435.22 381.99,435.03 383.89,434.84 385.79,434.64 387.68,434.44 389.58,434.24 391.48,434.03 393.38,433.83 395.28,433.62 397.18,433.41 399.08,433.19 400.98,432.98 402.88,432.75 404.78,432.51 406.68,432.27 408.58,432.01 410.47,431.73 412.37,431.44 414.27,431.13 416.17,430.8 418.07,430.46 419.97,430.09 421.87,429.71 423.77,429.31 425.67,428.9 427.57,428.47 429.47,428.03 431.37,427.56 433.26,427.06 435.16,426.53 437.06,425.97 438.96,425.39 440.86,424.79 442.76,424.17 444.66,423.56 446.56,422.93 448.46,422.31 450.36,421.7 452.26,421.07 454.16,420.44 456.05,419.8 457.95,419.13 459.85,418.45 461.75,417.73 463.65,416.98 465.55,416.19 467.45,415.38 469.35,414.53 471.25,413.66 473.15,412.76 475.05,411.83 476.95,410.88 478.84,409.91 480.74,408.91 482.64,407.89 484.54,406.86 486.44,405.8 488.34,404.72 490.24,403.6 492.14,402.45 494.04,401.27 495.94,400.05 497.84,398.81 499.74,397.55 501.63,396.26 503.53,394.95 505.43,393.63 507.33,392.29 509.23,390.94 511.13,389.58 513.03,388.21 514.93,386.8 516.83,385.36 518.73,383.89 520.63,382.4 522.53,380.9 524.42,379.37 526.32,377.85 528.22,376.31 530.12,374.78 532.02,373.26 533.92,371.75 535.82,370.22 537.72,368.69 539.62,367.16 541.52,365.62 543.42,364.08 545.32,362.55 547.21,361 549.11,359.46 551.01,357.92 552.91,356.37 554.81,354.83 556.71,353.28 558.61,351.73 560.51,350.18 562.41,348.63 564.31,347.08 566.21,345.52 568.11,343.97 570,342.41 571.9,340.85 573.8,339.29 575.7,337.73 577.6,336.17 579.5,334.6" fill="none" stroke="#D95319" stroke-width="1.35" />
<polyline points="462.5,335.8 486.5,345.6 512.6,353 537.8,358.5 545.7,362.1 563.4,369.6 567,372.4 579,383.5" fill="none" stroke="#0072BD" stroke-width="1.35" />
<polyline points="371.4,336.6 400,351.3 427.4,363.6 462,378 475.8,383.1 505.4,394.1 537.7,403.1 561.7,419.5 579,426" fill="none" stroke="#0072BD" stroke-width="1.35" stroke-dasharray="6,3.9"/>
<polyline points="354,367 411.5,394 460,414.8 485.7,427.6 512.3,438.5 538,445 562.6,447 579,448.4" fill="none" stroke="#0072BD" stroke-width="1.35" stroke-dasharray="1.2,1.2"/>
</g>
<rect x="361.0" y="444.3" width="96.8" height="54.5" fill="#fff" stroke="#3a3a3a" stroke-width="1.15"/>
<line x1="363.2" y1="453.6" x2="387.8" y2="453.6" stroke="#0072BD" stroke-width="1.3" />
<text x="392.8" y="455.8" font-size="10" fill="#262626"><tspan font-style="italic">N</tspan><tspan font-size="8" font-style="italic" dy="4" dx="0.2">part</tspan><tspan dy="-4" dx="0.6"> = 100</tspan></text>
<line x1="363.2" y1="471.3" x2="387.8" y2="471.3" stroke="#0072BD" stroke-width="1.3" stroke-dasharray="6,3.9"/>
<text x="392.8" y="473.5" font-size="10" fill="#262626"><tspan font-style="italic">N</tspan><tspan font-size="8" font-style="italic" dy="4" dx="0.2">part</tspan><tspan dy="-4" dx="0.6"> = 1,000</tspan></text>
<line x1="363.2" y1="489" x2="387.8" y2="489" stroke="#0072BD" stroke-width="1.3" stroke-dasharray="1.2,1.2"/>
<text x="392.8" y="491.2" font-size="10" fill="#262626"><tspan font-style="italic">N</tspan><tspan font-size="8" font-style="italic" dy="4" dx="0.2">part</tspan><tspan dy="-4" dx="0.6"> = 10,000</tspan></text>
<line x1="354" y1="336.6" x2="578.2" y2="336.6" stroke="#262626" stroke-width="1.1" />
<line x1="354" y1="505.6" x2="578.2" y2="505.6" stroke="#262626" stroke-width="1.1" />
<line x1="354" y1="336.1" x2="354" y2="506.1" stroke="#0072BD" stroke-width="1.3" />
<line x1="578.2" y1="336.1" x2="578.2" y2="506.1" stroke="#D95319" stroke-width="1.2" />
<line x1="354.58" y1="336.6" x2="354.58" y2="339.4" stroke="#262626" stroke-width="1" />
<line x1="354.58" y1="502.8" x2="354.58" y2="505.6" stroke="#262626" stroke-width="1" />
<line x1="361.4" y1="336.6" x2="361.4" y2="339.4" stroke="#262626" stroke-width="1" />
<line x1="361.4" y1="502.8" x2="361.4" y2="505.6" stroke="#262626" stroke-width="1" />
<line x1="367.16" y1="336.6" x2="367.16" y2="339.4" stroke="#262626" stroke-width="1" />
<line x1="367.16" y1="502.8" x2="367.16" y2="505.6" stroke="#262626" stroke-width="1" />
<line x1="372.16" y1="336.6" x2="372.16" y2="339.4" stroke="#262626" stroke-width="1" />
<line x1="372.16" y1="502.8" x2="372.16" y2="505.6" stroke="#262626" stroke-width="1" />
<line x1="376.56" y1="336.6" x2="376.56" y2="339.4" stroke="#262626" stroke-width="1" />
<line x1="376.56" y1="502.8" x2="376.56" y2="505.6" stroke="#262626" stroke-width="1" />
<line x1="380.5" y1="336.6" x2="380.5" y2="341.6" stroke="#262626" stroke-width="1" />
<line x1="380.5" y1="500.6" x2="380.5" y2="505.6" stroke="#262626" stroke-width="1" />
<line x1="406.42" y1="336.6" x2="406.42" y2="339.4" stroke="#262626" stroke-width="1" />
<line x1="406.42" y1="502.8" x2="406.42" y2="505.6" stroke="#262626" stroke-width="1" />
<line x1="421.58" y1="336.6" x2="421.58" y2="339.4" stroke="#262626" stroke-width="1" />
<line x1="421.58" y1="502.8" x2="421.58" y2="505.6" stroke="#262626" stroke-width="1" />
<line x1="432.34" y1="336.6" x2="432.34" y2="339.4" stroke="#262626" stroke-width="1" />
<line x1="432.34" y1="502.8" x2="432.34" y2="505.6" stroke="#262626" stroke-width="1" />
<line x1="440.68" y1="336.6" x2="440.68" y2="339.4" stroke="#262626" stroke-width="1" />
<line x1="440.68" y1="502.8" x2="440.68" y2="505.6" stroke="#262626" stroke-width="1" />
<line x1="447.5" y1="336.6" x2="447.5" y2="339.4" stroke="#262626" stroke-width="1" />
<line x1="447.5" y1="502.8" x2="447.5" y2="505.6" stroke="#262626" stroke-width="1" />
<line x1="453.26" y1="336.6" x2="453.26" y2="339.4" stroke="#262626" stroke-width="1" />
<line x1="453.26" y1="502.8" x2="453.26" y2="505.6" stroke="#262626" stroke-width="1" />
<line x1="458.26" y1="336.6" x2="458.26" y2="339.4" stroke="#262626" stroke-width="1" />
<line x1="458.26" y1="502.8" x2="458.26" y2="505.6" stroke="#262626" stroke-width="1" />
<line x1="462.66" y1="336.6" x2="462.66" y2="339.4" stroke="#262626" stroke-width="1" />
<line x1="462.66" y1="502.8" x2="462.66" y2="505.6" stroke="#262626" stroke-width="1" />
<line x1="466.6" y1="336.6" x2="466.6" y2="341.6" stroke="#262626" stroke-width="1" />
<line x1="466.6" y1="500.6" x2="466.6" y2="505.6" stroke="#262626" stroke-width="1" />
<line x1="492.52" y1="336.6" x2="492.52" y2="339.4" stroke="#262626" stroke-width="1" />
<line x1="492.52" y1="502.8" x2="492.52" y2="505.6" stroke="#262626" stroke-width="1" />
<line x1="507.68" y1="336.6" x2="507.68" y2="339.4" stroke="#262626" stroke-width="1" />
<line x1="507.68" y1="502.8" x2="507.68" y2="505.6" stroke="#262626" stroke-width="1" />
<line x1="518.44" y1="336.6" x2="518.44" y2="339.4" stroke="#262626" stroke-width="1" />
<line x1="518.44" y1="502.8" x2="518.44" y2="505.6" stroke="#262626" stroke-width="1" />
<line x1="526.78" y1="336.6" x2="526.78" y2="339.4" stroke="#262626" stroke-width="1" />
<line x1="526.78" y1="502.8" x2="526.78" y2="505.6" stroke="#262626" stroke-width="1" />
<line x1="533.6" y1="336.6" x2="533.6" y2="339.4" stroke="#262626" stroke-width="1" />
<line x1="533.6" y1="502.8" x2="533.6" y2="505.6" stroke="#262626" stroke-width="1" />
<line x1="539.36" y1="336.6" x2="539.36" y2="339.4" stroke="#262626" stroke-width="1" />
<line x1="539.36" y1="502.8" x2="539.36" y2="505.6" stroke="#262626" stroke-width="1" />
<line x1="544.36" y1="336.6" x2="544.36" y2="339.4" stroke="#262626" stroke-width="1" />
<line x1="544.36" y1="502.8" x2="544.36" y2="505.6" stroke="#262626" stroke-width="1" />
<line x1="548.76" y1="336.6" x2="548.76" y2="339.4" stroke="#262626" stroke-width="1" />
<line x1="548.76" y1="502.8" x2="548.76" y2="505.6" stroke="#262626" stroke-width="1" />
<line x1="552.7" y1="336.6" x2="552.7" y2="341.6" stroke="#262626" stroke-width="1" />
<line x1="552.7" y1="500.6" x2="552.7" y2="505.6" stroke="#262626" stroke-width="1" />
<line x1="354" y1="501.69" x2="356.8" y2="501.69" stroke="#0072BD" stroke-width="1.1" />
<line x1="575.4" y1="501.69" x2="578.2" y2="501.69" stroke="#D95319" stroke-width="1.1" />
<line x1="354" y1="498" x2="359" y2="498" stroke="#0072BD" stroke-width="1.1" />
<line x1="573.2" y1="498" x2="578.2" y2="498" stroke="#D95319" stroke-width="1.1" />
<line x1="354" y1="473.71" x2="356.8" y2="473.71" stroke="#0072BD" stroke-width="1.1" />
<line x1="575.4" y1="473.71" x2="578.2" y2="473.71" stroke="#D95319" stroke-width="1.1" />
<line x1="354" y1="459.5" x2="356.8" y2="459.5" stroke="#0072BD" stroke-width="1.1" />
<line x1="575.4" y1="459.5" x2="578.2" y2="459.5" stroke="#D95319" stroke-width="1.1" />
<line x1="354" y1="449.41" x2="356.8" y2="449.41" stroke="#0072BD" stroke-width="1.1" />
<line x1="575.4" y1="449.41" x2="578.2" y2="449.41" stroke="#D95319" stroke-width="1.1" />
<line x1="354" y1="441.59" x2="356.8" y2="441.59" stroke="#0072BD" stroke-width="1.1" />
<line x1="575.4" y1="441.59" x2="578.2" y2="441.59" stroke="#D95319" stroke-width="1.1" />
<line x1="354" y1="435.2" x2="356.8" y2="435.2" stroke="#0072BD" stroke-width="1.1" />
<line x1="575.4" y1="435.2" x2="578.2" y2="435.2" stroke="#D95319" stroke-width="1.1" />
<line x1="354" y1="429.8" x2="356.8" y2="429.8" stroke="#0072BD" stroke-width="1.1" />
<line x1="575.4" y1="429.8" x2="578.2" y2="429.8" stroke="#D95319" stroke-width="1.1" />
<line x1="354" y1="425.12" x2="356.8" y2="425.12" stroke="#0072BD" stroke-width="1.1" />
<line x1="575.4" y1="425.12" x2="578.2" y2="425.12" stroke="#D95319" stroke-width="1.1" />
<line x1="354" y1="420.99" x2="356.8" y2="420.99" stroke="#0072BD" stroke-width="1.1" />
<line x1="575.4" y1="420.99" x2="578.2" y2="420.99" stroke="#D95319" stroke-width="1.1" />
<line x1="354" y1="417.3" x2="359" y2="417.3" stroke="#0072BD" stroke-width="1.1" />
<line x1="573.2" y1="417.3" x2="578.2" y2="417.3" stroke="#D95319" stroke-width="1.1" />
<line x1="354" y1="393.01" x2="356.8" y2="393.01" stroke="#0072BD" stroke-width="1.1" />
<line x1="575.4" y1="393.01" x2="578.2" y2="393.01" stroke="#D95319" stroke-width="1.1" />
<line x1="354" y1="378.8" x2="356.8" y2="378.8" stroke="#0072BD" stroke-width="1.1" />
<line x1="575.4" y1="378.8" x2="578.2" y2="378.8" stroke="#D95319" stroke-width="1.1" />
<line x1="354" y1="368.71" x2="356.8" y2="368.71" stroke="#0072BD" stroke-width="1.1" />
<line x1="575.4" y1="368.71" x2="578.2" y2="368.71" stroke="#D95319" stroke-width="1.1" />
<line x1="354" y1="360.89" x2="356.8" y2="360.89" stroke="#0072BD" stroke-width="1.1" />
<line x1="575.4" y1="360.89" x2="578.2" y2="360.89" stroke="#D95319" stroke-width="1.1" />
<line x1="354" y1="354.5" x2="356.8" y2="354.5" stroke="#0072BD" stroke-width="1.1" />
<line x1="575.4" y1="354.5" x2="578.2" y2="354.5" stroke="#D95319" stroke-width="1.1" />
<line x1="354" y1="349.1" x2="356.8" y2="349.1" stroke="#0072BD" stroke-width="1.1" />
<line x1="575.4" y1="349.1" x2="578.2" y2="349.1" stroke="#D95319" stroke-width="1.1" />
<line x1="354" y1="344.42" x2="356.8" y2="344.42" stroke="#0072BD" stroke-width="1.1" />
<line x1="575.4" y1="344.42" x2="578.2" y2="344.42" stroke="#D95319" stroke-width="1.1" />
<line x1="354" y1="340.29" x2="356.8" y2="340.29" stroke="#0072BD" stroke-width="1.1" />
<line x1="575.4" y1="340.29" x2="578.2" y2="340.29" stroke="#D95319" stroke-width="1.1" />
<line x1="354" y1="336.6" x2="359" y2="336.6" stroke="#0072BD" stroke-width="1.1" />
<line x1="573.2" y1="336.6" x2="578.2" y2="336.6" stroke="#D95319" stroke-width="1.1" />
<text x="327.2" y="506.2" font-size="15" fill="#0072BD" text-anchor="start">10</text>
<text x="342.9" y="499.8" font-size="11" fill="#0072BD" text-anchor="start">0</text>
<text x="581.8" y="506.2" font-size="15" fill="#D95319" text-anchor="start">10</text>
<text x="597.5" y="499.8" font-size="11" fill="#D95319" text-anchor="start">0</text>
<text x="327.2" y="425.5" font-size="15" fill="#0072BD" text-anchor="start">10</text>
<text x="342.9" y="419.1" font-size="11" fill="#0072BD" text-anchor="start">1</text>
<text x="581.8" y="425.5" font-size="15" fill="#D95319" text-anchor="start">10</text>
<text x="597.5" y="419.1" font-size="11" fill="#D95319" text-anchor="start">1</text>
<text x="327.2" y="344.8" font-size="15" fill="#0072BD" text-anchor="start">10</text>
<text x="342.9" y="338.4" font-size="11" fill="#0072BD" text-anchor="start">2</text>
<text x="581.8" y="344.8" font-size="15" fill="#D95319" text-anchor="start">10</text>
<text x="597.5" y="338.4" font-size="11" fill="#D95319" text-anchor="start">2</text>
<text x="368.3" y="528.6" font-size="15" fill="#262626" text-anchor="start">10</text>
<text x="383.9" y="521.9" font-size="11" fill="#262626" text-anchor="start">0</text>
<text x="454.4" y="528.6" font-size="15" fill="#262626" text-anchor="start">10</text>
<text x="470" y="521.9" font-size="11" fill="#262626" text-anchor="start">1</text>
<text x="540.5" y="528.6" font-size="15" fill="#262626" text-anchor="start">10</text>
<text x="556.1" y="521.9" font-size="11" fill="#262626" text-anchor="start">2</text>
<text transform="translate(314.3,420.3) rotate(-90)" font-size="16" fill="#0072BD" text-anchor="middle"><tspan font-style="italic" letter-spacing="-1.2">CV</tspan><tspan font-size="11.5" font-style="italic" dy="6.8" dx="1.6">c</tspan><tspan dy="-6.8"> (%)</tspan></text>
<text transform="translate(624,420.6) rotate(-90)" font-size="16.3" fill="#D95319" text-anchor="middle">&#916;<tspan font-style="italic">t</tspan><tspan font-size="12.8" dy="6.8">SP</tspan><tspan dy="-6.8" dx="0.3"> (s)</tspan></text>
<text x="466.5" y="549.3" font-size="16" fill="#262626" text-anchor="middle"><tspan font-style="italic">t</tspan><tspan font-size="12" font-style="italic" dy="6.6">block</tspan><tspan dy="-6.6" dx="0.6"> (s)</tspan></text>
</g>
</svg>
</body></html>
